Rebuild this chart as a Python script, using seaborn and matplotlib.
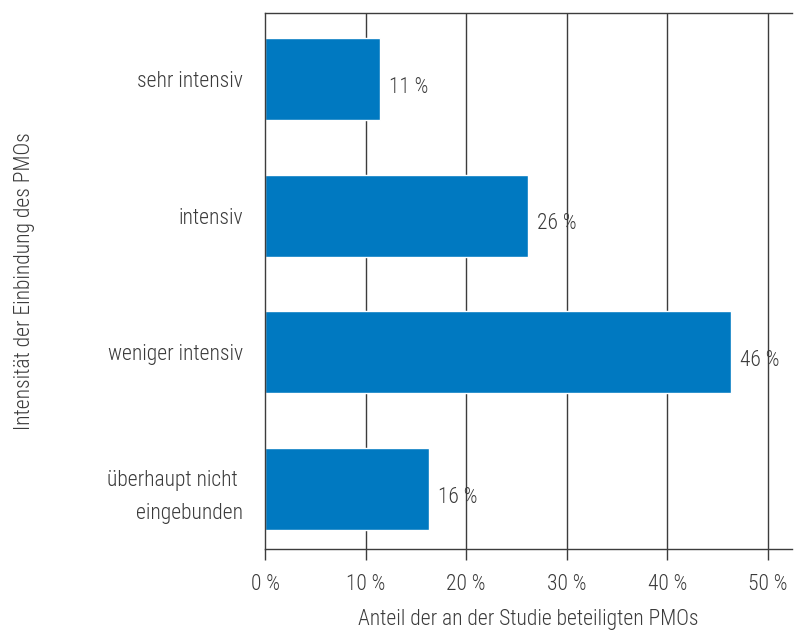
import matplotlib
matplotlib.use("Agg")
import matplotlib.pyplot as plt
import seaborn as sns
import pandas as pd

categories = ["sehr intensiv", "intensiv", "weniger intensiv", "überhaupt nicht \neingebunden"]
shares = [11.4, 26.1, 46.3, 16.3]
tick_values = [0, 10, 20, 30, 40, 50]
tick_labels = ["0 %", "10 %", "20 %", "30 %", "40 %", "50 %"]

sns.set_theme(style="white")
plt.rcParams["font.family"] = ["Roboto Condensed", "DejaVu Sans"]
plt.rcParams["font.weight"] = 300

df = pd.DataFrame({"Intensität": categories, "Anteil": shares})

fig = plt.figure(figsize=(8.09, 6.30), dpi=100)
ax = fig.add_axes([0.3276, 0.1286, 0.979 - 0.3276, 0.979 - 0.1286])

text_color = "#3a3a3a"
line_color = "#3c3c3c"
fs = 15.5

for v in tick_values[1:]:
    ax.axvline(v, color=line_color, lw=1.0, zorder=0)

sns.barplot(data=df, x="Anteil", y="Intensität", orient="h", color="#0079C1",
            width=0.6, saturation=1, ax=ax, zorder=2)

for i, v in enumerate(shares):
    ax.text(v + 0.9, i + 0.06, f"{round(v)} %", va="center", ha="left",
            fontsize=fs, color=text_color, fontweight=300)

ax.set_xlim(0, 52.4)
ax.set_ylim(3.44, -0.48)
ax.set_xticks(tick_values)
ax.set_xticklabels(tick_labels, fontsize=fs, color=text_color, fontweight=300)
ax.tick_params(axis="x", bottom=True, length=8, width=1, color=line_color, pad=10)
ax.tick_params(axis="y", left=False, length=0, pad=16)
for lbl in ax.get_yticklabels():
    lbl.set_fontsize(fs)
    lbl.set_color(text_color)
    lbl.set_fontweight(300)
    lbl.set_multialignment("right")
    lbl.set_linespacing(1.7)

for side in ["left", "bottom", "top"]:
    ax.spines[side].set_visible(True)
    ax.spines[side].set_color(line_color)
    ax.spines[side].set_linewidth(1.0)
ax.spines["right"].set_visible(False)

ax.set_xlabel("Anteil der an der Studie beteiligten PMOs", fontsize=fs,
              color=text_color, fontweight=300, labelpad=10)
ax.set_ylabel("Intensität der Einbindung des PMOs", fontsize=fs,
              color=text_color, fontweight=300)
ax.yaxis.set_label_coords(-0.436, 0.5)

fig.savefig("out.png", dpi=100, facecolor="white")
